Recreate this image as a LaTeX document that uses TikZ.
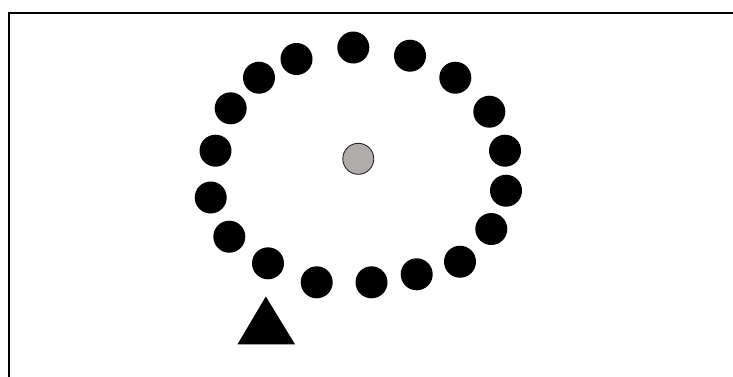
\documentclass[tikz,border=0pt]{standalone}
\usetikzlibrary{shapes.geometric}
\begin{document}
\begin{tikzpicture}[x=1pt,y=-1pt,
  dot/.style={circle,fill=black,inner sep=0pt,minimum size=32pt},
  hub/.style={circle,fill={rgb,255:red,176;green,172;blue,171},draw=black!85,line width=0.9pt,inner sep=0pt,minimum size=31pt},
  frameline/.style={line width=2pt,black}]
\useasboundingbox (0,0) rectangle (733,376);
\draw[frameline] (9,377) -- (9,12.8) -- (734,12.8);
\foreach \n/\x/\y in {1/353.3/47.5, 2/296.5/59, 3/259/77.7, 4/230.7/108.3, 5/215.5/150.7,
  6/210.7/197.5, 7/229.3/236.7, 8/268/263.3, 9/316.7/282.3, 10/371.5/282.3,
  11/416.7/274.3, 12/460/261.7, 13/491.3/229, 14/506/190.7, 15/505/150.7,
  16/489.3/111.7, 17/455.3/77.7, 18/410/55.7}
  \node[dot] (d\n) at (\x,\y) {};
\node[hub] (c) at (358.3,158.8) {};
\coordinate (tapex) at (265.8,296.5);
\coordinate (tleft) at (237.5,344.3);
\coordinate (tright) at (295,344.3);
\fill[black] (tapex) -- (tright) -- (tleft) -- cycle;
\end{tikzpicture}
\end{document}
